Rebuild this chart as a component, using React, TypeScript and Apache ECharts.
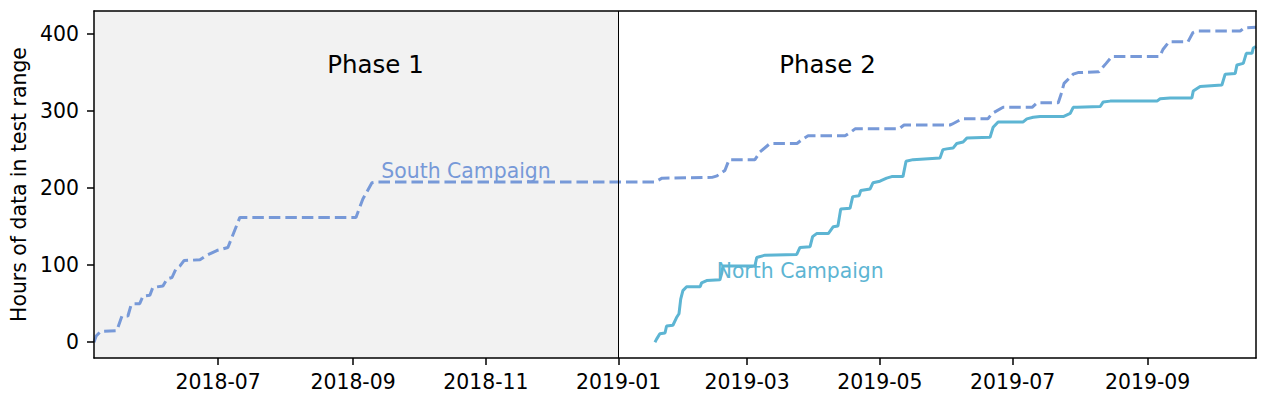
import React, { useEffect, useRef } from "react";
import * as echarts from "echarts";

// ---- data ----
const southCampaign: [string, number][] = [
  ["2018-05-05", 0], ["2018-05-06", 8], ["2018-05-08", 14], ["2018-05-15 12:00", 15],
  ["2018-05-17 20:00", 34], ["2018-05-20 14:00", 34], ["2018-05-22", 48], ["2018-05-23", 50],
  ["2018-05-26", 50], ["2018-05-27 12:00", 60], ["2018-05-30 16:00", 61], ["2018-06-01", 71],
  ["2018-06-05 16:00", 73], ["2018-06-07 12:00", 82], ["2018-06-09 20:00", 84], ["2018-06-11 14:00", 95],
  ["2018-06-13 12:00", 99], ["2018-06-15 08:00", 106], ["2018-06-22 16:00", 107], ["2018-06-25 22:00", 113],
  ["2018-06-30 10:00", 119], ["2018-07-05 12:00", 123], ["2018-07-07 08:00", 136], ["2018-07-11", 162],
  ["2018-09-02 08:00", 162], ["2018-09-05 12:00", 186], ["2018-09-09 16:00", 207], ["2018-09-11 20:00", 208],
  ["2019-01-17 16:00", 208], ["2019-01-20 22:00", 213], ["2019-02-12 22:00", 214], ["2019-02-15 05:00", 216],
  ["2019-02-18 19:00", 223], ["2019-02-20 17:00", 237], ["2019-03-04 14:00", 237], ["2019-03-06 22:00", 247],
  ["2019-03-11 12:00", 258], ["2019-03-23 22:00", 258], ["2019-03-26 05:00", 263], ["2019-03-29", 268],
  ["2019-04-15", 268], ["2019-04-18 05:00", 274], ["2019-04-19 14:00", 277], ["2019-05-09 19:00", 277],
  ["2019-05-12 02:00", 282], ["2019-06-02 05:00", 282], ["2019-06-03 02:00", 283], ["2019-06-07 17:00", 290],
  ["2019-06-19 14:00", 290], ["2019-06-21 12:00", 297], ["2019-06-26 14:00", 305], ["2019-07-09 22:00", 305],
  ["2019-07-12 05:00", 311], ["2019-07-21 22:00", 311], ["2019-07-23 05:00", 322], ["2019-07-24 14:00", 336],
  ["2019-07-28 19:00", 348], ["2019-07-31", 350], ["2019-08-09 14:00", 351], ["2019-08-12 22:00", 362],
  ["2019-08-15 14:00", 371], ["2019-09-06 14:00", 371], ["2019-09-08", 380], ["2019-09-10 19:00", 390],
  ["2019-09-19 12:00", 390], ["2019-09-21 19:00", 402], ["2019-09-23 14:00", 404], ["2019-10-13 12:00", 404],
  ["2019-10-15 07:00", 408], ["2019-10-20 18:00", 409],
];

const northCampaign: [string, number][] = [
  ["2019-01-17 16:00", 0], ["2019-01-18 10:00", 4], ["2019-01-19 22:00", 11], ["2019-01-22 07:00", 12],
  ["2019-01-23", 21], ["2019-01-25 22:00", 22], ["2019-01-27 14:00", 32], ["2019-01-28 17:00", 37],
  ["2019-01-29 12:00", 56], ["2019-01-30 12:00", 67], ["2019-02-01 05:00", 72], ["2019-02-07 10:00", 72],
  ["2019-02-08 02:00", 77], ["2019-02-10 10:00", 80], ["2019-02-16 12:00", 81], ["2019-02-17 07:00", 89],
  ["2019-02-17 22:00", 99], ["2019-03-04 14:00", 99], ["2019-03-05 10:00", 110], ["2019-03-09 05:00", 113],
  ["2019-03-23 19:00", 114], ["2019-03-25 07:00", 123], ["2019-03-29 22:00", 124], ["2019-03-31 02:00", 137],
  ["2019-04-01 22:00", 141], ["2019-04-07 07:00", 141], ["2019-04-09 14:00", 150], ["2019-04-11 17:00", 151],
  ["2019-04-13", 173], ["2019-04-17 07:00", 174], ["2019-04-18 12:00", 189], ["2019-04-21 10:00", 190],
  ["2019-04-22 05:00", 197], ["2019-04-26 12:00", 199], ["2019-04-27 19:00", 207], ["2019-05-01", 209],
  ["2019-05-04 02:00", 213], ["2019-05-06 10:00", 215], ["2019-05-11 14:00", 215], ["2019-05-13", 235],
  ["2019-05-16 05:00", 237], ["2019-05-28 14:00", 239], ["2019-05-29 22:00", 250], ["2019-05-31 17:00", 251],
  ["2019-06-03 14:00", 252], ["2019-06-05 07:00", 258], ["2019-06-08 05:00", 260], ["2019-06-09 22:00", 265],
  ["2019-06-20 14:00", 266], ["2019-06-22", 279], ["2019-06-24 07:00", 286], ["2019-07-05 19:00", 286],
  ["2019-07-07 12:00", 290], ["2019-07-10 10:00", 292], ["2019-07-13 14:00", 293], ["2019-07-24 05:00", 293],
  ["2019-07-27 10:00", 297], ["2019-07-28 19:00", 305], ["2019-07-30 12:00", 305], ["2019-08-10 05:00", 306],
  ["2019-08-11 14:00", 312], ["2019-08-14 19:00", 313], ["2019-09-05 07:00", 313], ["2019-09-06 17:00", 316],
  ["2019-09-11 07:00", 317], ["2019-09-21 07:00", 317], ["2019-09-21 22:00", 326], ["2019-09-25 02:00", 332],
  ["2019-10-05 02:00", 334], ["2019-10-06 14:00", 348], ["2019-10-11 05:00", 349], ["2019-10-12", 360],
  ["2019-10-14 22:00", 362], ["2019-10-16 07:00", 375], ["2019-10-18 22:00", 375], ["2019-10-19 12:00", 382],
  ["2019-10-20 18:00", 384],
];

const xTickLabels = ["2018-07", "2018-09", "2018-11", "2019-01", "2019-03", "2019-05", "2019-07", "2019-09"];
const yTickValues = [0, 100, 200, 300, 400];
const xRange = ["2018-05-05", "2019-10-20 18:00"];
const yRange = [-20.5, 430];
const phaseBoundary = "2019-01-01";
const phaseLabels: [string, number, string][] = [
  ["2018-09-11 07:00", 361, "Phase 1"],
  ["2019-04-06 22:00", 361, "Phase 2"],
];
const campaignLabels: [string, number, string][] = [
  ["2018-09-14", 209, "South Campaign"],
  ["2019-02-15", 80, "North Campaign"],
];

const SOUTH_COLOR = "#7799d8";
const NORTH_COLOR = "#5db5d3";
const FONT = "DejaVu Sans";

function toTs(s: string): number {
  const iso = s.includes(" ") ? s.replace(" ", "T") : s + "T00:00";
  return new Date(iso).getTime();
}

function pad(n: number) {
  return n < 10 ? "0" + n : "" + n;
}

export default function App() {
  const ref = useRef<HTMLDivElement>(null);

  useEffect(() => {
    document.body.style.margin = "0";
    if (!ref.current) return;
    const chart = echarts.init(ref.current, undefined, { renderer: "svg" });
    const xMin = toTs(xRange[0]);
    const xMax = toTs(xRange[1]);
    const xTicks = xTickLabels.map((l) => toTs(l + "-01"));
    const fmt = (v: number) => {
      const d = new Date(v);
      return d.getFullYear() + "-" + pad(d.getMonth() + 1);
    };
    const axisColor = "#000";
    const spineW = 1.5;

    chart.setOption({
      animation: false,
      grid: { left: 94, right: 12, top: 11, bottom: 41, show: false },
      xAxis: [
        {
          type: "value",
          z: 10,
          min: xMin,
          max: xMax,
          scale: true,
          axisLine: { show: true, onZero: false, lineStyle: { color: axisColor, width: spineW } },
          axisTick: { show: true, customValues: xTicks, length: 7, lineStyle: { color: axisColor, width: spineW } },
          axisLabel: {
            customValues: xTicks,
            formatter: (v: number) => fmt(v),
            color: "#000",
            fontFamily: FONT,
            fontSize: 20.4,
            margin: 14,
          },
          splitLine: { show: false },
        },
        {
          type: "value",
          z: 10,
          position: "top",
          min: xMin,
          max: xMax,
          scale: true,
          axisLine: { show: true, onZero: false, lineStyle: { color: axisColor, width: spineW } },
          axisTick: { show: false },
          axisLabel: { show: false },
          splitLine: { show: false },
        },
      ],
      yAxis: [
        {
          type: "value",
          z: 10,
          min: yRange[0],
          max: yRange[1],
          name: "Hours of data in test range",
          nameLocation: "middle",
          nameRotate: 90,
          nameGap: 62,
          nameTextStyle: { color: "#000", fontFamily: FONT, fontSize: 20.4 },
          axisLine: { show: true, onZero: false, lineStyle: { color: axisColor, width: spineW } },
          axisTick: { show: true, customValues: yTickValues, length: 7, lineStyle: { color: axisColor, width: spineW } },
          axisLabel: {
            customValues: yTickValues,
            color: "#000",
            fontFamily: FONT,
            fontSize: 20.4,
            margin: 15,
          },
          splitLine: { show: false },
        },
        {
          type: "value",
          z: 10,
          position: "right",
          min: yRange[0],
          max: yRange[1],
          axisLine: { show: true, onZero: false, lineStyle: { color: axisColor, width: spineW } },
          axisTick: { show: false },
          axisLabel: { show: false },
          splitLine: { show: false },
        },
      ],
      series: [
        {
          type: "line",
          data: [],
          z: 1,
          silent: true,
          markArea: {
            silent: true,
            itemStyle: { color: "#f2f2f2" },
            data: [[{ xAxis: xMin }, { xAxis: toTs(phaseBoundary) }]],
          },
          markLine: {
            silent: true,
            symbol: "none",
            label: { show: false },
            lineStyle: { color: "#000", width: 1, type: "solid" },
            data: [{ xAxis: toTs(phaseBoundary) }],
          },
        },
        {
          name: "South Campaign",
          type: "line",
          z: 3,
          showSymbol: false,
          symbol: "none",
          data: southCampaign.map(([d, v]) => [toTs(d), v]),
          lineStyle: { color: SOUTH_COLOR, width: 3, type: [11.5, 5] },
        },
        {
          name: "North Campaign",
          type: "line",
          z: 3,
          showSymbol: false,
          symbol: "none",
          data: northCampaign.map(([d, v]) => [toTs(d), v]),
          lineStyle: { color: NORTH_COLOR, width: 3 },
        },
        {
          type: "scatter",
          z: 4,
          symbolSize: 0,
          silent: true,
          itemStyle: { opacity: 1 },
          data: phaseLabels.map(([d, v, n]) => ({ name: n, value: [toTs(d), v] })),
          label: {
            show: true,
            formatter: "{b}",
            position: "inside",
            color: "#000",
            opacity: 1,
            textBorderWidth: 0,
            textBorderColor: "transparent",
            fontFamily: FONT,
            fontSize: 24.5,
          },
        },
        {
          type: "scatter",
          z: 4,
          symbolSize: 0,
          silent: true,
          itemStyle: { opacity: 1 },
          data: campaignLabels.map(([d, v, n], i) => ({
            name: n,
            value: [toTs(d), v],
            label: { color: i === 0 ? SOUTH_COLOR : NORTH_COLOR },
          })),
          label: {
            show: true,
            formatter: "{b}",
            position: [0, 0],
            align: "left",
            verticalAlign: "bottom",
            opacity: 1,
            textBorderWidth: 0,
            fontFamily: FONT,
            fontSize: 20.4,
          },
        },
      ],
    });
    return () => chart.dispose();
  }, []);

  return <div ref={ref} style={{ width: 1268, height: 399 }} />;
}
